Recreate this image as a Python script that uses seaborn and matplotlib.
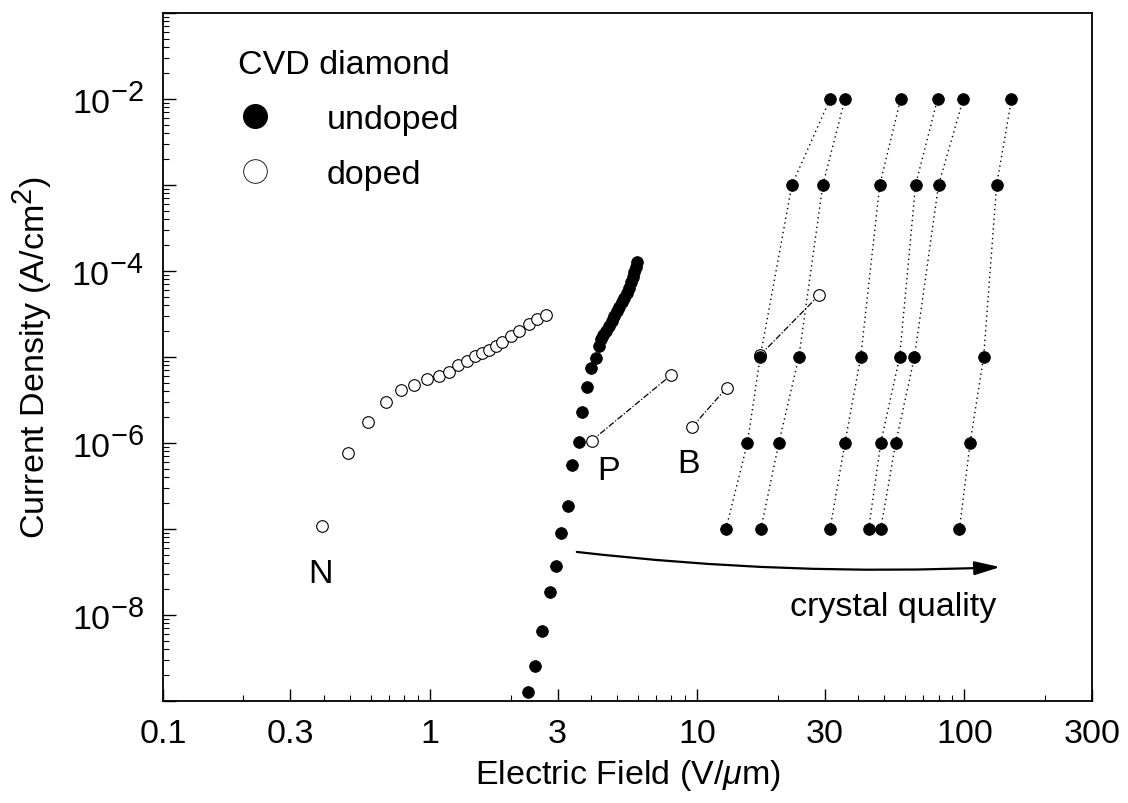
import numpy as np
import pandas as pd
import matplotlib
matplotlib.use("Agg")
import matplotlib.pyplot as plt
import seaborn as sns
from matplotlib.lines import Line2D
from matplotlib.ticker import FixedLocator, LogLocator, NullFormatter, FuncFormatter

try:
    import matplotlib._mathtext as _mt
    _mt.SHRINK_FACTOR = 0.85
except Exception:
    pass

# ---------------- data ----------------
undoped_field = [2.32, 2.47, 2.62, 2.81, 2.95, 3.08, 3.27, 3.39, 3.60, 3.69, 3.85, 3.99,
                 4.16, 4.27, 4.35, 4.45, 4.54, 4.66, 4.78, 4.88, 4.99, 5.10, 5.21, 5.32,
                 5.44, 5.55, 5.67, 5.75, 5.82, 5.90, 5.97]
undoped_current = [1.27e-9, 2.55e-9, 6.5e-9, 1.84e-8, 3.7e-8, 8.9e-8, 1.87e-7, 5.6e-7,
                   1.03e-6, 2.3e-6, 4.5e-6, 7.4e-6, 9.7e-6, 1.34e-5, 1.61e-5, 1.8e-5,
                   2.0e-5, 2.3e-5, 2.6e-5, 3.0e-5, 3.4e-5, 3.8e-5, 4.3e-5, 4.9e-5,
                   5.6e-5, 6.4e-5, 7.4e-5, 8.4e-5, 9.6e-5, 1.1e-4, 1.26e-4]

doped_n_field = [0.395, 0.494, 0.587, 0.686, 0.780, 0.871, 0.975, 1.08, 1.18, 1.27, 1.37,
                 1.47, 1.56, 1.66, 1.76, 1.86, 2.00, 2.15, 2.34, 2.51, 2.71]
doped_n_current = [1.07e-7, 7.7e-7, 1.76e-6, 3.0e-6, 4.1e-6, 4.7e-6, 5.5e-6, 6.0e-6, 6.7e-6,
                   8.1e-6, 9.0e-6, 1.02e-5, 1.11e-5, 1.20e-5, 1.34e-5, 1.49e-5, 1.75e-5,
                   2.0e-5, 2.4e-5, 2.75e-5, 3.1e-5]

doped_p_field = [4.02, 8.0]
doped_p_current = [1.06e-6, 6.2e-6]
doped_b_field = [9.58, 12.9]
doped_b_current = [1.54e-6, 4.4e-6]
doped_c_field = [17.2, 28.5]
doped_c_current = [1.05e-5, 5.2e-5]

quality_current = [1e-7, 1e-6, 1e-5, 1e-3, 1e-2]
quality_s1 = [12.8, 15.4, 17.2, 22.6, 31.4]
quality_s2 = [17.3, 20.2, 24.0, 29.5, 35.7]
quality_s3 = [31.4, 35.7, 40.9, 48.2, 57.7]
quality_s4 = [43.8, 48.6, 57.2, 65.6, 79.3]
quality_s5 = [48.6, 55.3, 65.0, 80.0, 99.0]
quality_s6 = [95.8, 105.0, 118.0, 132.0, 150.0]

x_ticks = [0.1, 0.3, 1, 3, 10, 30, 100, 300]
x_tick_labels = ["0.1", "0.3", "1", "3", "10", "30", "100", "300"]
y_label_exponents = [-8, -6, -4, -2]

# ---------------- frames ----------------
quality = pd.concat([
    pd.DataFrame({"field": f, "current": quality_current, "sample": name})
    for name, f in [("s1", quality_s1), ("s2", quality_s2), ("s3", quality_s3),
                    ("s4", quality_s4), ("s5", quality_s5), ("s6", quality_s6)]
], ignore_index=True)
undoped = pd.DataFrame({"field": undoped_field, "current": undoped_current})
doped_n = pd.DataFrame({"field": doped_n_field, "current": doped_n_current})
doped_lines = pd.concat([
    pd.DataFrame({"field": doped_p_field, "current": doped_p_current, "sample": "P"}),
    pd.DataFrame({"field": doped_b_field, "current": doped_b_current, "sample": "B"}),
    pd.DataFrame({"field": doped_c_field, "current": doped_c_current, "sample": "C"}),
], ignore_index=True)

# ---------------- plot ----------------
sns.set_theme(style="ticks")
plt.rcParams["font.family"] = ["Liberation Sans", "DejaVu Sans"]
plt.rcParams["mathtext.fontset"] = "custom"
plt.rcParams["mathtext.rm"] = "Liberation Sans"
plt.rcParams["mathtext.it"] = "Liberation Sans:italic"
plt.rcParams["text.color"] = "black"
plt.rcParams["axes.labelcolor"] = "black"
plt.rcParams["xtick.color"] = "black"
plt.rcParams["ytick.color"] = "black"

FS = 24.5

fig = plt.figure(figsize=(11.28, 8.04), dpi=100)
ax = fig.add_axes([0.1445, 0.127, 0.8235, 0.8556])
ax.set_xscale("log")
ax.set_yscale("log")

# dotted lines for undoped samples of increasing crystal quality
sns.lineplot(data=quality, x="field", y="current", units="sample", estimator=None,
             sort=False, color="black", lw=1.0, linestyle=(0, (1, 2.5)), ax=ax,
             legend=False)
# thin lines for doped P, B
sns.lineplot(data=doped_lines, x="field", y="current", units="sample", estimator=None,
             sort=False, color="black", lw=0.9, linestyle=(0, (5, 1.5, 1, 1.5)), ax=ax,
             legend=False)

open_kw = dict(facecolor="white", edgecolor="black", linewidth=0.8, s=70, zorder=3)
sns.scatterplot(data=doped_n, x="field", y="current", marker="o", ax=ax, **open_kw)
sns.scatterplot(data=doped_lines, x="field", y="current", marker="o", ax=ax, **open_kw)

fill_kw = dict(color="black", edgecolor="black", s=70, zorder=4)
sns.scatterplot(data=undoped, x="field", y="current", marker="o", ax=ax, **fill_kw)
sns.scatterplot(data=quality, x="field", y="current", marker="o", ax=ax, **fill_kw)

ax.set_xlim(0.1, 300)
ax.set_ylim(1e-9, 1e-1)

ax.xaxis.set_major_locator(FixedLocator(x_ticks))
ax.xaxis.set_major_formatter(FuncFormatter(
    lambda v, p: x_tick_labels[x_ticks.index(min(x_ticks, key=lambda t: abs(np.log10(t) - np.log10(v))))]))
ax.xaxis.set_minor_locator(LogLocator(base=10, subs=np.arange(2, 10)))
ax.xaxis.set_minor_formatter(NullFormatter())

ax.yaxis.set_major_locator(FixedLocator([10.0 ** e for e in range(-9, 0)]))
ax.yaxis.set_major_formatter(FuncFormatter(
    lambda v, p: (r"$10^{%d}$" % round(np.log10(v))) if round(np.log10(v)) in y_label_exponents else ""))
ax.yaxis.set_minor_locator(LogLocator(base=10, subs=np.arange(2, 10)))
ax.yaxis.set_minor_formatter(NullFormatter())

ax.tick_params(which="major", direction="in", length=9, width=1.0, labelsize=FS)
ax.tick_params(axis="x", which="major", pad=12)
ax.tick_params(axis="y", which="major", pad=14)
ax.tick_params(which="minor", direction="in", length=4, width=0.8)
for s in ax.spines.values():
    s.set_linewidth(1.3)
    s.set_color("black")

ax.set_xlabel("Electric Field (V/$\\mu$m)", fontsize=FS, labelpad=6)
ax.set_ylabel("Current Density (A/cm$^2$)", fontsize=FS, labelpad=12)

# annotations
ax.text(0.39, 3.0e-8, "N", fontsize=FS, ha="center", va="center")
ax.text(4.65, 4.8e-7, "P", fontsize=FS, ha="center", va="center")
ax.text(9.25, 5.7e-7, "B", fontsize=FS, ha="center", va="center")
ax.text(132, 1.26e-8, "crystal quality", fontsize=FS, ha="right", va="center")
ax.annotate("", xy=(136, 3.6e-8), xytext=(3.54, 5.4e-8),
            arrowprops=dict(arrowstyle="-|>,head_length=1.3,head_width=0.35",
                            color="black", lw=1.6, shrinkA=0, shrinkB=0,
                            connectionstyle="arc3,rad=0.04"))

# legend
handles = [Line2D([], [], marker="o", ls="none", markerfacecolor="black",
                  markeredgecolor="black", markersize=17),
           Line2D([], [], marker="o", ls="none", markerfacecolor="white",
                  markeredgecolor="black", markeredgewidth=0.6, markersize=17)]
leg = ax.legend(handles, ["undoped", "doped"], title="CVD diamond", loc="upper left",
                bbox_to_anchor=(0.081, 0.947), frameon=False, fontsize=FS,
                title_fontsize=FS, handlelength=1.0, handletextpad=1.6,
                labelspacing=0.7, borderaxespad=0, borderpad=0)
leg._legend_box.align = "left"

fig.savefig("out.png", dpi=100)
